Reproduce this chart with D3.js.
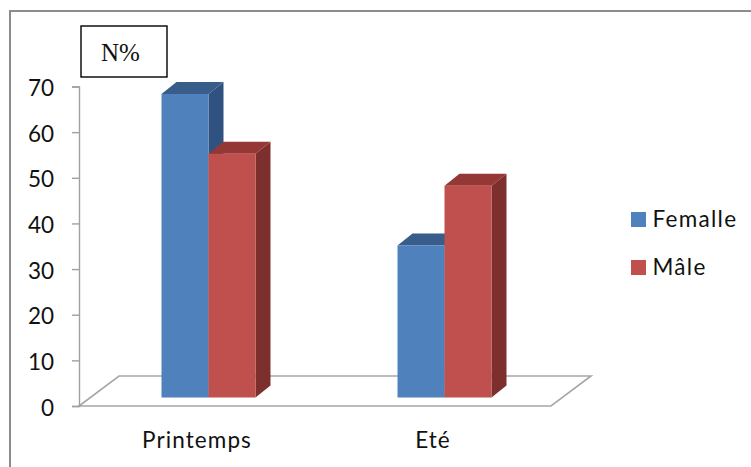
<!DOCTYPE html>
<html><head><meta charset="utf-8">
<script src="https://cdnjs.cloudflare.com/ajax/libs/d3/7.8.5/d3.min.js"></script>
<style>html,body{margin:0;padding:0;background:#fff;overflow:hidden}svg{display:block}</style>
</head><body><svg id="c" width="751" height="467"></svg>
<script>
const categories = ["Printemps", "Eté"];
const seriesNames = ["Femalle", "Mâle"];
const femalle = [66.5, 33.3];
const male = [53.4, 46.4];
const yTicks = [0, 10, 20, 30, 40, 50, 60, 70];

const svg = d3.select("#c");
const font = "Lato, sans-serif";
const fontSize = 22.5;
const x0 = 79, x1 = 551, y0 = 406, y70 = 86.5;
const dx = 15, dy = 12, floorDx = 40, floorDy = 30;
const barBase = 397.5;

const x = d3.scaleBand().domain(categories).range([x0, x1]);
const xs = d3.scaleBand().domain(seriesNames).range([0, 94]);
const yAxisScale = d3.scaleLinear().domain([0, 70]).range([y0, y70]);
const h = d3.scaleLinear().domain([0, 70]).range([0, y0 - y70]);

// outer frame: top and left edges only
svg.append("path").attr("d", d3.line()([[10, 467], [10, 11], [751, 11]]))
  .attr("fill", "none").attr("stroke", "#8c8c8c").attr("stroke-width", 2);

// floor
svg.append("path")
  .attr("d", d3.line()([[x0, y0], [x1, y0], [x1 + floorDx, y0 - floorDy], [x0 + floorDx, y0 - floorDy]]) + "Z")
  .attr("fill", "#fff").attr("stroke", "#a6a6a6").attr("stroke-width", 1.6);

// y axis
const ax = svg.append("g").attr("transform", `translate(${x0},0)`)
  .call(d3.axisLeft(yAxisScale).tickValues(yTicks).tickSize(7).tickPadding(18));
ax.selectAll("path,line").attr("stroke", "#a0a0a0").attr("stroke-width", 1.4);
ax.selectAll("text").attr("font-family", font).attr("font-size", fontSize).attr("fill", "#111").attr("dy", "0.4em");

// category labels
svg.append("g").selectAll("text").data(categories).join("text")
  .attr("x", d => x(d) + x.bandwidth() / 2).attr("y", 448)
  .attr("text-anchor", "middle").attr("font-family", font).attr("font-size", fontSize)
  .attr("letter-spacing", 1.1).attr("fill", "#111")
  .text(d => d);

// bars
const colors = {
  "Femalle": { front: "#4f81bd", top: "#385d8a", side: "#2f5280" },
  "Mâle": { front: "#c0504d", top: "#953735", side: "#7d2f2d" }
};
const bars = [];
categories.forEach((c, i) => {
  bars.push({ c, s: "Femalle", v: femalle[i] });
  bars.push({ c, s: "Mâle", v: male[i] });
});
const barLeft = d => x(d.c) + x.bandwidth() / 2 - 35.5 + xs(d.s);
const g = svg.append("g").selectAll("g").data(bars).join("g");
g.append("path").attr("fill", d => colors[d.s].side).attr("d", d => {
  const l = barLeft(d) + xs.bandwidth(), t = barBase - h(d.v);
  return d3.line()([[l, t], [l + dx, t - dy], [l + dx, barBase - dy], [l, barBase]]) + "Z";
});
g.append("path").attr("fill", d => colors[d.s].top).attr("d", d => {
  const l = barLeft(d), w = xs.bandwidth(), t = barBase - h(d.v);
  return d3.line()([[l, t], [l + dx, t - dy], [l + w + dx, t - dy], [l + w, t]]) + "Z";
});
g.append("rect").attr("fill", d => colors[d.s].front)
  .attr("x", barLeft).attr("width", xs.bandwidth())
  .attr("y", d => barBase - h(d.v)).attr("height", d => h(d.v));

// legend
const lg = svg.append("g").selectAll("g").data(seriesNames).join("g")
  .attr("transform", (d, i) => `translate(631,${212 + i * 48})`);
lg.append("rect").attr("width", 15).attr("height", 15).attr("fill", d => colors[d].front);
lg.append("text").attr("x", 21.5).attr("y", 15).attr("font-family", font).attr("font-size", fontSize)
  .attr("letter-spacing", 1.3).attr("fill", "#111").text(d => d);

// N% box
svg.append("rect").attr("x", 81).attr("y", 26).attr("width", 86).attr("height", 51)
  .attr("fill", "#fff").attr("stroke", "#000").attr("stroke-width", 1.4);
svg.append("text").attr("x", 120.5).attr("y", 61).attr("text-anchor", "middle")
  .attr("font-family", "'Liberation Serif', serif").attr("font-size", 25).attr("fill", "#111").text("N%");
</script></body></html>
